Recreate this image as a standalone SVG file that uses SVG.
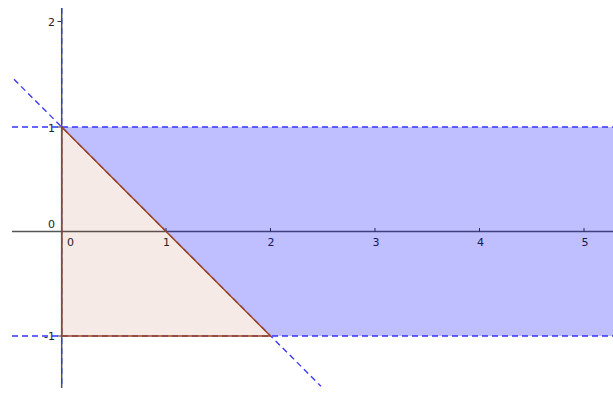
<svg xmlns="http://www.w3.org/2000/svg" width="613" height="394" viewBox="0 0 613 394">
<style>
.lbl{font-family:"DejaVu Sans","Liberation Sans",sans-serif;font-size:11px;fill:#222;}
.axis{stroke:#555;stroke-width:1.5;fill:none;}
.dash{stroke:#3333ff;stroke-width:1.3;stroke-dasharray:6,4;fill:none;}
.tick{stroke:#333;stroke-width:1;}
</style>
<rect width="613" height="394" fill="#ffffff"/>
<g id="axes">
<line class="axis" x1="12" y1="231.5" x2="613" y2="231.5"/>
<line class="axis" x1="61.7" y1="8" x2="61.7" y2="388"/>
<line class="tick" x1="166" y1="228" x2="166" y2="231.5"/>
<line class="tick" x1="270.5" y1="228" x2="270.5" y2="231.5"/>
<line class="tick" x1="375" y1="228" x2="375" y2="231.5"/>
<line class="tick" x1="479.5" y1="228" x2="479.5" y2="231.5"/>
<line class="tick" x1="584" y1="228" x2="584" y2="231.5"/>
<line class="tick" x1="57.5" y1="21.5" x2="61.7" y2="21.5"/>
<line class="tick" x1="57.5" y1="127" x2="61.7" y2="127"/>
<line class="tick" x1="57.5" y1="336" x2="61.7" y2="336"/>
</g>
<g id="labels">
<text class="lbl" x="51.5" y="26" text-anchor="middle">2</text>
<text class="lbl" x="51.5" y="131.5" text-anchor="middle">1</text>
<text class="lbl" x="51.5" y="228" text-anchor="middle">0</text>
<text class="lbl" x="49.5" y="340" text-anchor="middle">-1</text>
<text class="lbl" x="70.5" y="245.5" text-anchor="middle">0</text>
<text class="lbl" x="166.5" y="245.5" text-anchor="middle">1</text>
<text class="lbl" x="271" y="245.5" text-anchor="middle">2</text>
<text class="lbl" x="376" y="245.5" text-anchor="middle">3</text>
<text class="lbl" x="480.5" y="245.5" text-anchor="middle">4</text>
<text class="lbl" x="585" y="245.5" text-anchor="middle">5</text>
</g>
<g id="region">
<polygon points="61.7,127 613,127 613,336 270.5,336" fill="#0000ff" fill-opacity="0.25"/>
</g>
<g id="connectors">
<line class="dash" x1="12" y1="127" x2="613" y2="127"/>
<line class="dash" x1="12" y1="336" x2="613" y2="336"/>
<line class="dash" x1="61.7" y1="8" x2="61.7" y2="388"/>
<line class="dash" x1="14" y1="79.3" x2="321" y2="386.3"/>
</g>
<g id="triangle">
<polygon points="61.7,127 61.7,336 270.5,336" fill="#993300" fill-opacity="0.1" stroke="#a0451a" stroke-width="1.5"/>
</g>
</svg>
